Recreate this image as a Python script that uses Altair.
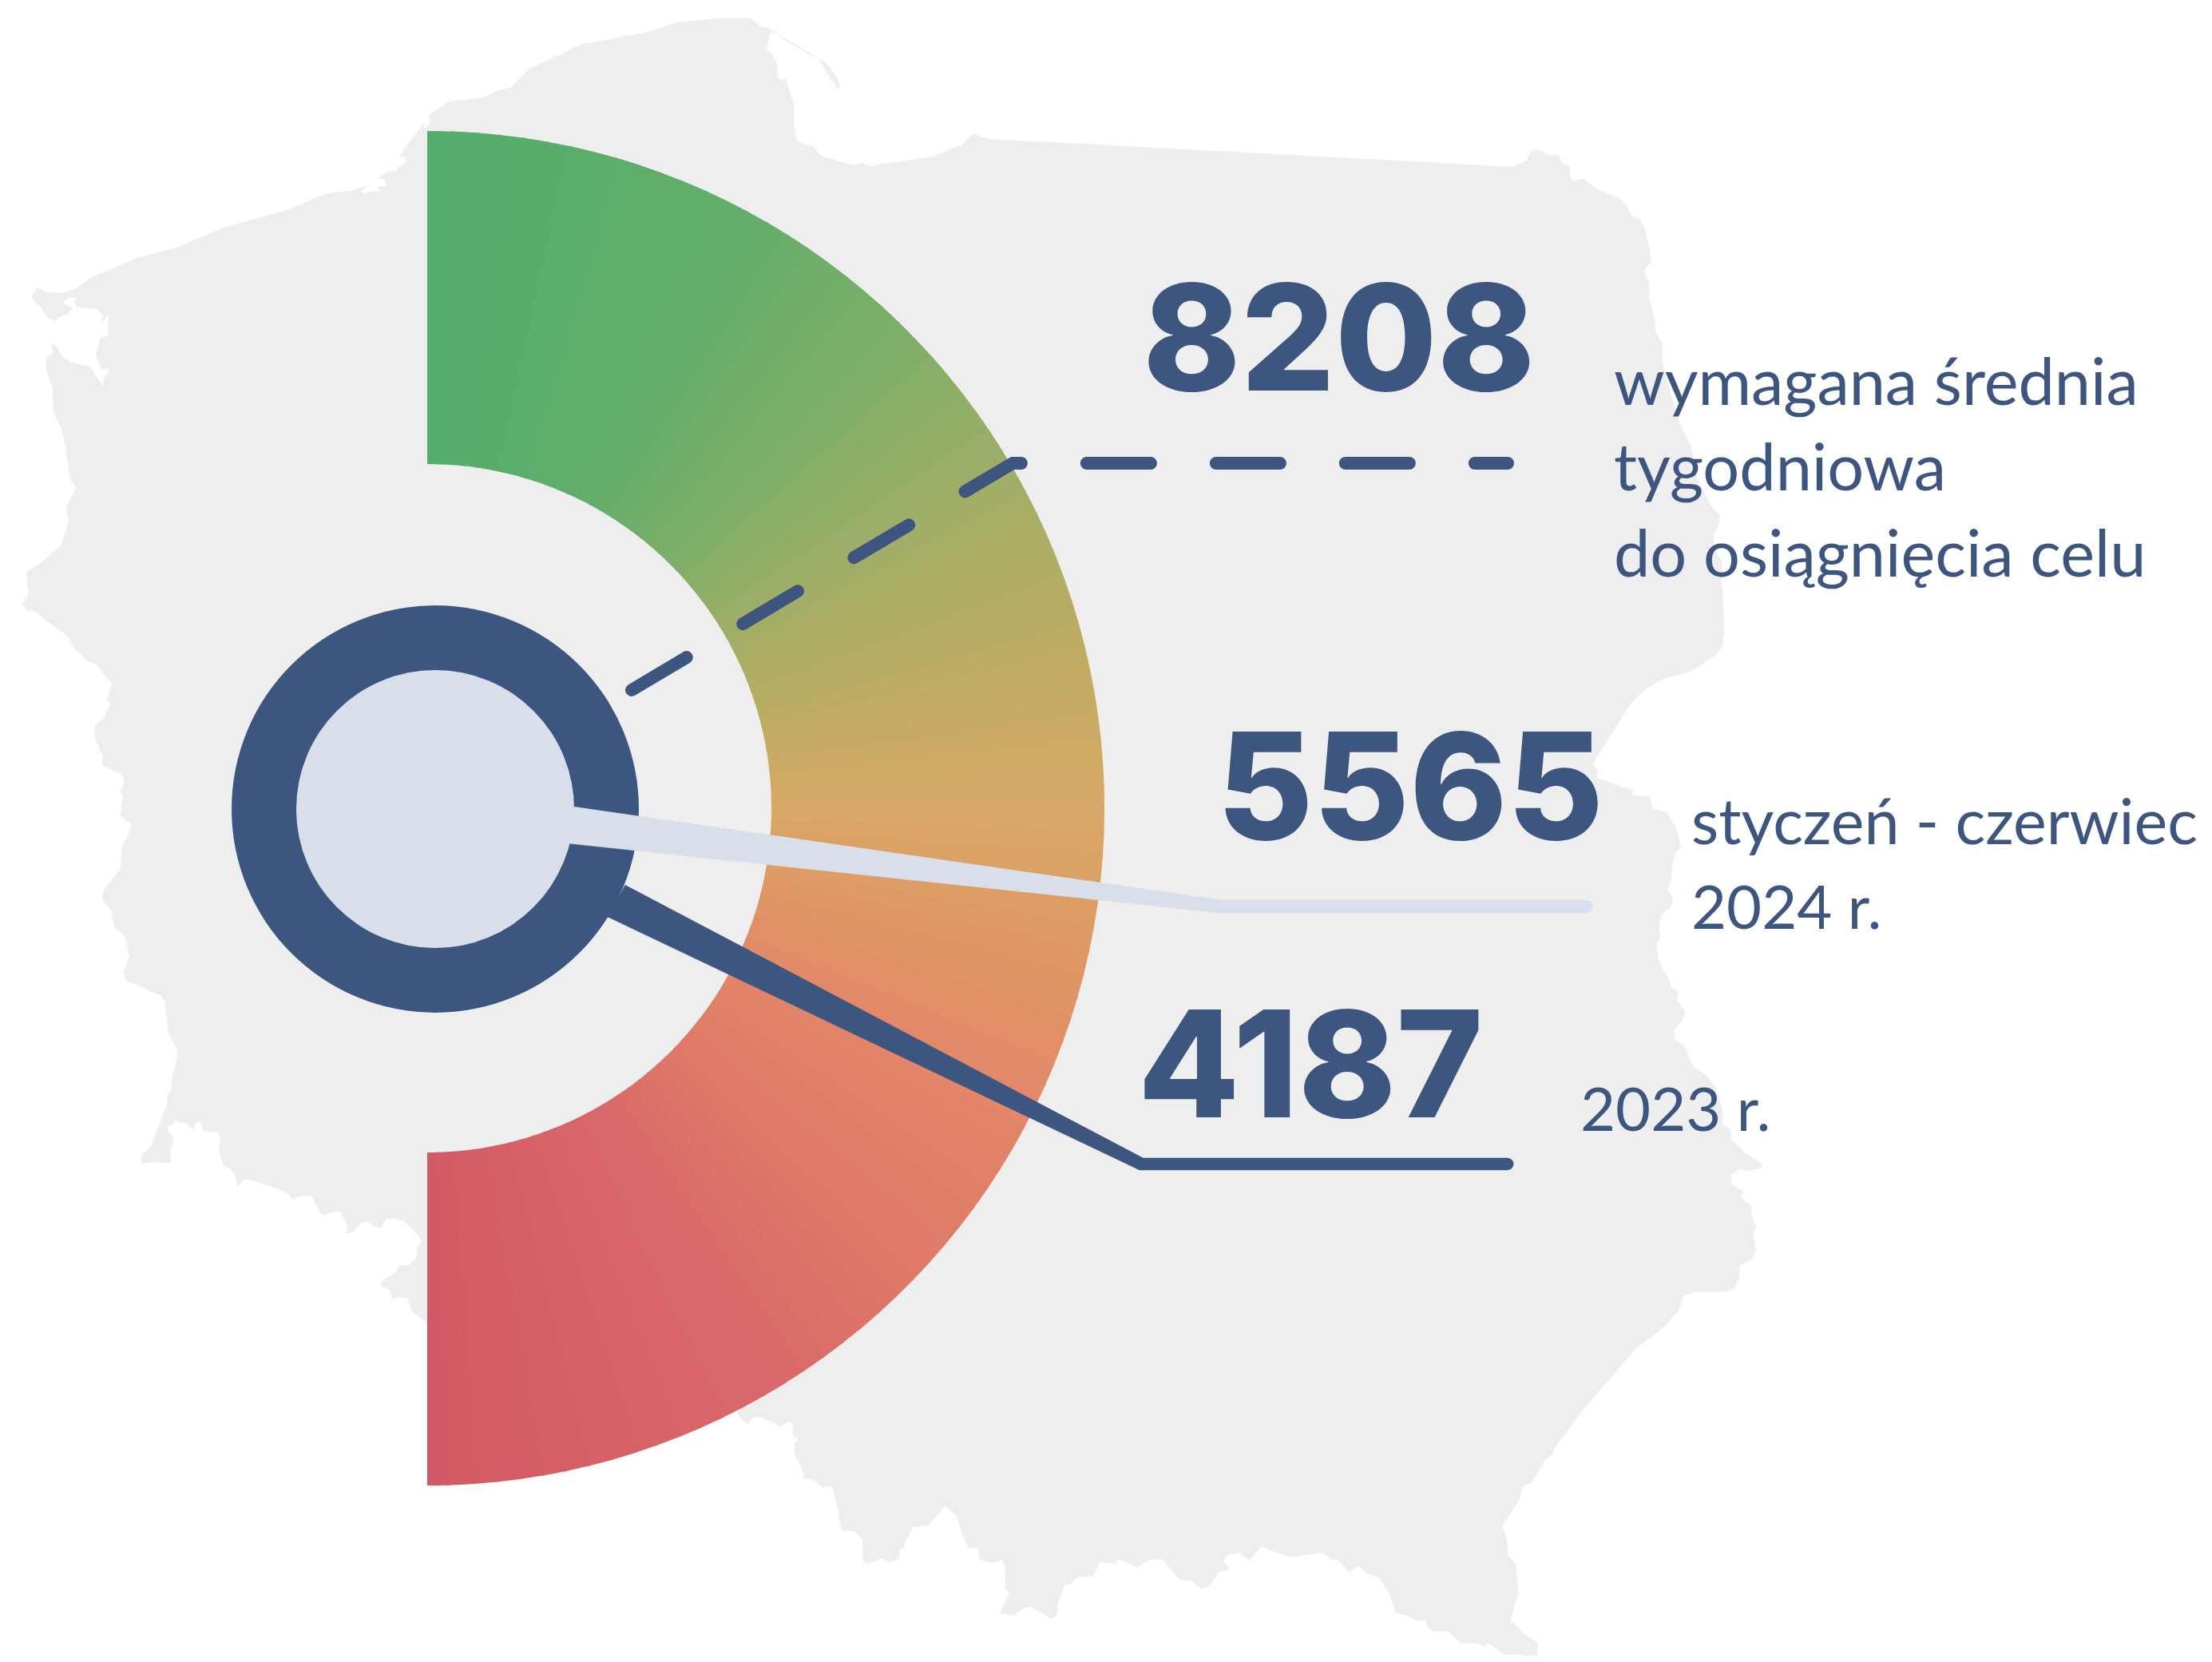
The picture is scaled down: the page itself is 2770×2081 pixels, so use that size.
import math
import altair as alt
import pandas as pd

INK = "#3d5680"
PALE = "#d8dfea"
LAND = "#eeeeee"

map_pts = [
(536,145),(561,128),(605,122),(622,114),(640,110),(662,87),(727,56),(809,41),(847,28),(903,23),(940,23),(952,33),(959,34),(1025,73),(1036,80),(1048,97),(1052,108),(1050,112),(1041,100),(1025,73),(1012,67),(992,55),(980,48),(969,39),(964,42),(960,62),(967,68),(973,80),(973,87),(974,98),(978,101),(984,98),(986,108),(994,131),(994,157),(997,175),(1010,182),(1019,184),(1027,195),(1064,206),(1071,207),(1078,204),(1088,208),(1170,196),(1189,187),(1204,182),(1219,167),(1224,170),(1237,174),
(1893,209),(1912,201),(1918,188),(1925,187),(1942,195),(1950,194),(1957,205),(1967,209),(1965,219),(1970,227),(1983,224),(2002,238),(2027,248),(2037,257),(2043,270),(2053,274),(2060,288),(2067,318),(2067,329),(2058,339),(2065,354),(2065,374),(2072,400),(2073,415),(2082,431),(2082,456),(2093,497),(2103,530),(2117,558),(2125,599),(2135,619),(2143,635),(2153,644),(2153,655),(2146,670),(2146,686),(2157,704),(2155,727),(2157,742),(2159,793),(2156,811),(2147,821),(2118,840),(2083,850),(2062,862),(2043,879),(2017,920),(1998,950),
(1995,958),(2001,965),(2000,974),(2022,982),(2045,990),(2043,995),(2053,997),(2065,997),(2070,1014),(2087,1017),(2093,1029),(2098,1034),(2105,1061),(2098,1067),(2093,1088),(2093,1100),(2088,1113),(2095,1126),(2092,1136),(2080,1146),(2077,1162),(2079,1174),(2074,1181),(2077,1203),(2083,1215),(2090,1226),(2093,1237),(2102,1242),(2099,1251),(2110,1267),(2106,1279),(2096,1289),(2097,1302),(2108,1308),(2120,1335),(2137,1347),(2148,1361),(2157,1389),(2157,1407),(2167,1414),(2168,1427),(2187,1445),(2207,1458),(2205,1463),(2188,1466),(2178,1463),(2168,1470),(2168,1483),(2182,1491),(2180,1500),(2193,1509),(2193,1521),(2199,1537),(2195,1544),(2199,1567),(2192,1578),(2178,1585),(2178,1598),(2172,1613),(2162,1617),(2123,1617),(2108,1623),(2102,1641),(2083,1662),(2050,1687),(2003,1741),
(1984,1763),(1950,1808),(1943,1822),(1936,1827),(1917,1857),(1908,1860),(1903,1877),(1881,1910),(1887,1928),(1888,1947),(1898,1958),(1901,1995),(1892,2027),(1890,2034),(1895,2032),(1910,2047),(1925,2057),(1925,2080),(1910,2078),(1905,2071),(1884,2072),(1864,2057),(1859,2061),(1851,2058),(1829,2057),(1813,2042),(1796,2043),(1788,2038),(1785,2028),(1774,2029),(1763,2023),(1747,2018),(1741,1997),(1727,1975),(1712,1970),(1701,1960),(1690,1969),(1675,1952),(1668,1953),(1657,1944),(1639,1946),(1628,1948),(1617,1949),(1598,1944),(1580,1936),(1565,1953),(1551,1944),(1536,1947),(1532,1955),(1540,1965),(1526,1968),(1514,1987),(1504,1989),(1492,1979),(1477,1978),(1455,1952),(1438,1953),(1424,1962),(1400,1952),(1397,1958),(1377,1955),(1369,1973),(1349,1975),(1340,1984),(1334,1983),(1325,2005),(1323,2023),(1317,2027),(1290,2011),(1279,2015),(1270,2023),(1253,2020),(1261,2000),(1265,1997),(1259,1988),(1259,1963),(1255,1953),(1243,1957),(1226,1952),(1226,1939),(1213,1938),(1206,1923),(1198,1898),(1187,1888),(1184,1885),(1162,1910),(1143,1912),(1132,1933),(1132,1938),(1127,1940),(1125,1952),(1114,1956),(1103,1951),(1088,1957),(1081,1955),(1080,1927),(1070,1917),(1054,1916),(1048,1883),(1044,1867),(1039,1860),(1030,1862),(1019,1853),(1008,1851),(1003,1835),(995,1820),(995,1807),(1000,1802),(993,1797),(993,1783),(988,1780),(978,1786),(953,1774),(942,1775),(937,1782),(929,1778),(923,1767),
(534,1655),(517,1643),(513,1634),(511,1625),(498,1624),(492,1627),(487,1614),(479,1611),(478,1604),(483,1602),(496,1593),(500,1584),(511,1585),(521,1575),(523,1561),(528,1557),(525,1548),(506,1529),(494,1526),(483,1526),(477,1537),(469,1536),(462,1530),(454,1530),(441,1543),(433,1544),(436,1536),(427,1518),(421,1516),(406,1521),(402,1520),(390,1497),(379,1497),(366,1501),(358,1492),(314,1477),(305,1477),(297,1486),(295,1473),(289,1464),(280,1459),(274,1439),(277,1425),(272,1418),(255,1416),(251,1404),(245,1405),(242,1414),(234,1407),(222,1405),(219,1401),(217,1407),(209,1411),(210,1416),(217,1425),(216,1434),(213,1439),(214,1456),(190,1455),(177,1457),(178,1446),(189,1436),(209,1384),(210,1371),(215,1364),(216,1346),(222,1327),(222,1314),(211,1293),(207,1261),(208,1255),(201,1246),(190,1242),(175,1234),(159,1229),(155,1218),(162,1196),(157,1173),(144,1162),
(139,1140),(128,1126),(130,1115),(151,1088),(153,1061),(160,1046),(166,1033),(151,1021),(154,996),(151,991),(156,979),(152,969),(128,958),(129,948),(119,924),(119,909),(130,899),(139,881),(134,876),(141,855),(134,849),(121,832),(107,826),(101,818),(94,814),(85,797),(54,774),(46,766),(33,763),(28,756),(36,744),(33,717),(55,702),(77,682),(86,652),(83,635),(89,624),(96,610),(88,600),(82,560),
(78,539),(67,516),(66,486),(58,462),(58,448),(67,441),(64,430),(71,434),(76,445),(89,454),(112,459),(129,484),(131,471),(136,468),(136,462),(127,461),(120,445),(126,423),(136,421),(135,404),(137,391),(127,404),(129,395),(123,387),(96,384),(94,379),(96,371),(92,373),(85,372),(79,380),(91,386),(85,393),(71,398),(71,402),(60,398),(49,382),(45,380),(40,371),(47,360),(58,366),(80,367),(94,362),(114,348),(172,323),(219,311),(281,285),(364,262),(406,243),(440,239),(462,232),(451,239),(455,242),(475,239),(473,234),(484,233),(482,224),(473,224),(484,216),(496,214),(500,209),(509,203),(507,196),(501,196),(507,186),(531,154),(530,160),(533,161),(540,152),(538,149),
]

hub = {"x": 545, "y": 1013, "ring": 255, "disc": 174}
fan = {"x": 535, "y": 1012, "outer": 848, "inner": 431}
stop_angles = [0, 30, 46, 60, 90, 117, 135, 150, 180]
stop_colors = ["#52ad6b", "#64ae6a", "#7faf68", "#a0ae66", "#d8a866", "#e3866a", "#de7867", "#d9686a", "#d25a66"]
wedge_starts = list(range(0, 180, 2))

pale_wedge = [(719, 1010), (712, 1056), (1528, 1143), (1986, 1143), (1986, 1127), (1531, 1127)]
dark_wedge = [(783, 1108), (761, 1148), (1427, 1465), (1888, 1465), (1888, 1450), (1432, 1450)]
pale_end = [(1960, 1135), (1986, 1135)]
dark_end = [(1860, 1457.5), (1888, 1457.5)]
dashed = [(791, 864), (1268, 580), (1888, 580)]

numbers = [("8208", 1431, 489), ("5565", 1524, 1051), ("4187", 1425, 1399)]
labels = [("wymagana średnia", 2021, 507), ("tygodniowa", 2021, 614), ("do osiągnięcia celu", 2021, 722)]
period_label = [("styczeń - czerwiec", 2118, 1057)]
year_labels = [("2024 r.", 2118, 1163), ("2023 r.", 1979, 1416)]

X = alt.Scale(domain=[8, 2762])
Y = alt.Scale(domain=[2073, 8])

def pts(points):
    return pd.DataFrame({"px": [p[0] for p in points], "py": [p[1] for p in points], "i": range(len(points))})

def xy():
    return {"x": alt.X("px:Q", scale=X, axis=None), "y": alt.Y("py:Q", scale=Y, axis=None)}

def polygon(points, color):
    return alt.Chart(pts(points)).mark_line(fill=color, stroke=color, strokeWidth=0.5).encode(order="i:Q", **xy())

def disc(c, radius, color):
    return alt.Chart(pd.DataFrame({"px": [c["x"]], "py": [c["y"]]})).mark_arc(
        radius=radius, radius2=0, theta=0, theta2=2 * math.pi, fill=color
    ).encode(**xy())

wedges = pd.DataFrame({
    "px": fan["x"], "py": fan["y"], "a": [s + 1 for s in wedge_starts],
    "t0": [math.radians(s) for s in wedge_starts],
    "t1": [math.radians(min(s + 2.4, 180)) for s in wedge_starts],
})
fan_layer = alt.Chart(wedges).mark_arc(radius=fan["outer"], radius2=fan["inner"]).encode(
    theta=alt.Theta("t0:Q", scale=None, stack=None),
    theta2=alt.Theta2("t1:Q"),
    fill=alt.Fill("a:Q", scale=alt.Scale(domain=stop_angles, range=stop_colors), legend=None),
    **xy(),
)

def line(points, color, width, **kw):
    return alt.Chart(pts(points)).mark_line(color=color, strokeWidth=width, strokeCap="round", strokeJoin="round", **kw).encode(order="i:Q", **xy())

def text(rows, size, weight, font):
    df = pd.DataFrame(rows, columns=["t", "px", "py"])
    return alt.Chart(df).mark_text(align="left", baseline="alphabetic", font=font, fontSize=size, fontWeight=weight, color=INK).encode(text="t:N", **xy())

chart = alt.layer(
    polygon(map_pts, LAND),
    fan_layer,
    line(dashed, INK, 16, strokeDash=[80, 82]),
    disc(hub, hub["ring"], INK),
    polygon(dark_wedge, INK),
    line(dark_end, INK, 15),
    disc(hub, hub["disc"], PALE),
    polygon(pale_wedge, PALE),
    line(pale_end, PALE, 16),
    text(numbers, 185, 800, "Inter"),
    text(labels, 81, 400, "Lato"),
    text(period_label, 79, 400, "Lato"),
    text(year_labels, 76, 400, "Lato"),
).properties(
    width=2754, height=2065, padding=0, autosize=alt.AutoSizeParams(type="none"),
    background="white",
).configure_view(stroke=None)

chart.save("out.html", embed_options={"renderer": "svg", "actions": False})
